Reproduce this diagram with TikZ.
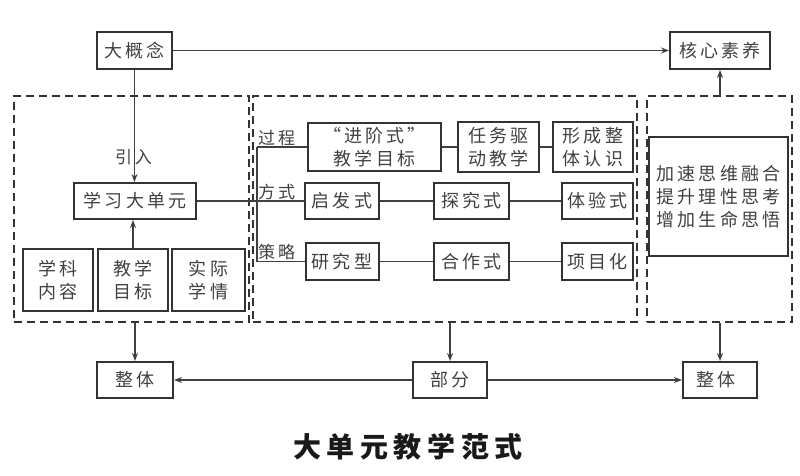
\documentclass[tikz,border=0pt]{standalone}
\usepackage{fontspec}
\newfontfamily\cjk[LetterSpace=17]{Noto Sans CJK SC}
\newfontfamily\titlefont[LetterSpace=20]{Noto Sans CJK SC}
\usetikzlibrary{arrows.meta}

\tikzset{
  box/.style={draw=black!80, line width=2pt, inner sep=0pt, align=center,
    font=\cjk\fontsize{18}{23}\selectfont, text=black!75},
  panel/.style={draw=black!80, line width=2.5pt, dash pattern=on 8pt off 5pt,
    inner sep=0pt},
  link/.style={draw=black!75, line width=1.8pt},
  arr/.style={link, -{Stealth[length=8pt,width=6pt]}},
  lbl/.style={font=\cjk\fontsize{17}{20}\selectfont, text=black!75, inner sep=1pt},
}

\begin{document}
\begin{tikzpicture}[x=1pt,y=-1pt]
  \useasboundingbox (0,0) rectangle (800,476);

  % dashed panels
  \node[panel, minimum width=235, minimum height=226] (leftp) at (131.5,209) {};
  \node[panel, minimum width=384, minimum height=226] (midp) at (445,209) {};
  \node[panel, minimum width=145, minimum height=226] (rightp) at (719.5,209) {};

  % boxes
  \foreach \name/\x/\y/\w/\h/\txt in {
      big/134.5/50.5/75/37/大概念,
      core/720/50.5/100/37/核心素养,
      unit/135/201/122/36/学习大单元,
      subj/58/280/70/62/学科\\内容,
      goal/133/280/70/62/教学\\目标,
      real/208.5/280/73/62/实际\\学情,
      step/374.5/147/133/48/“进阶式”\\教学目标,
      task/498.5/147/81/50/任务驱\\动教学,
      form/593/147/80/50/形成整\\体认识,
      qf/342/201/74/36/启发式,
      tj/471.5/201/75/36/探究式,
      ty/597.5/201/71/36/体验式,
      yj/342/261.5/73/37/研究型,
      hz/471.5/261.5/75/37/合作式,
      xm/597.5/261.5/71/37/项目化,
      gain/718.5/196.5/139/119/加速思维融合\\提升理性思考\\增加生命思悟,
      whole1/135/380/76/36/整体,
      part/450/380/74/36/部分,
      whole2/720/380/74/36/整体
  }{
    \node[box, minimum width=\w, minimum height=\h] (\name) at (\x,\y) {\txt};
  }

  % top row
  \draw[arr] (big.east) -- (core.west);
  \draw[arr] (big.south) -- (big.south |- unit.north)
    node[lbl, midway, xshift=-1pt, yshift=-31pt] {引入};
  \draw[arr] (goal.north) -- (goal.north |- unit.south);
  \draw[arr] (core.south |- rightp.north) -- (core.south);

  % bus to the three rows
  \coordinate (bus1) at (257,147);
  \coordinate (bus3) at (257,261.5);
  \draw[link] (unit.east) -- (qf.west);
  \draw[link] (bus1) -- (bus3);
  \draw[link] (bus1) -- (step.west);
  \draw[link] (bus3) -- (yj.west);
  \node[lbl, anchor=south west] at (bus1) {过程};
  \node[lbl, anchor=south west] at (bus1 |- qf.west) {方式};
  \node[lbl, anchor=south west] at (bus3) {策略};

  \draw[link] (step) -- (task);
  \draw[link] (task) -- (form);
  \draw[link] (qf) -- (tj);
  \draw[link] (tj) -- (ty);
  \draw[link] (yj) -- (hz);
  \draw[link] (hz) -- (xm);

  % bottom row
  \draw[arr] (whole1.north |- leftp.south) -- (whole1.north);
  \draw[arr] (part.north |- midp.south) -- (part.north);
  \draw[arr] (whole2.north |- rightp.south) -- (whole2.north);
  \draw[arr] (part.west) -- (whole1.east);
  \draw[arr] (part.east) -- (whole2.west);

  \node[font=\titlefont\bfseries\fontsize{28}{30}\selectfont, text=black!90]
    (title) at (408,447) {大单元教学范式};
\end{tikzpicture}
\end{document}
